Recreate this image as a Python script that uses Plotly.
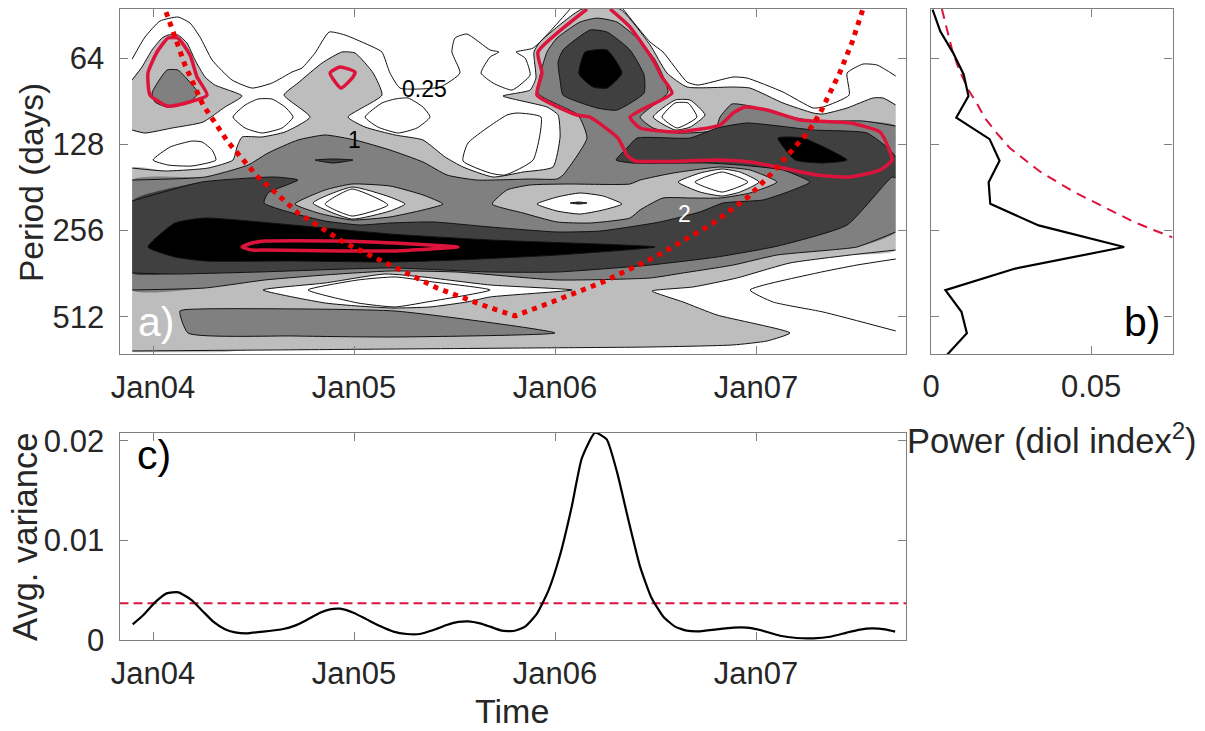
import plotly.graph_objects as go

W, H = 1205, 731

# ---------- axes labels ----------
YEAR_TICKS = [0, 1, 2, 3]                 # years since Jan 2004
YEAR_LABELS = ["Jan04", "Jan05", "Jan06", "Jan07"]
PERIOD_TICKS = [6, 7, 8, 9]               # log2(period)
PERIOD_LABELS = ["64", "128", "256", "512"]

# ---------- isolines of wavelet power: t = years since Jan 2004, p = log2(period in days) ----------
LIGHT_BLOB_T = [-.104,-.055,-.005,.045,.075,.124,.169,.209,.259,.308,.443,.358,.249,.095,-.040,-.104]
LIGHT_BLOB_P = [6.255,6.104,5.907,5.768,5.733,5.733,5.826,6.023,6.220,6.313,6.440,6.568,6.742,6.811,6.869,6.834]

LIGHT_MAIN_T = [-.104,.060,.274,.398,.418,.443,.542,.657,.781,.652,.721,.841,.940,1.005,1.095,1.139,.970,1.055,1.204,1.343,1.453,1.542,1.692,1.841,1.990,2.025,2.015,1.960,1.741,1.876,1.905,1.895,1.925,2.134,2.323,2.473,2.557,2.657,2.886,2.970,3.134,3.284,3.333,3.453,3.582,3.632,3.695,3.695,3.468,3.169,2.905,2.687,2.483,2.637,2.806,3.169,3.055,2.886,2.473,2.0,1.5,1.0,.5,-.104]
LIGHT_MAIN_P = [7.275,7.309,7.275,7.182,7.031,6.915,6.915,6.857,6.684,6.429,6.290,6.058,5.930,5.942,6.174,6.429,6.684,6.800,6.892,6.950,7.147,7.263,7.379,7.321,7.263,6.915,6.660,6.568,6.440,6.371,6.232,5.930,5.815,5.432,5.432,5.849,6.174,6.336,6.336,6.348,6.521,6.637,6.649,6.579,6.463,6.463,6.545,8.225,8.283,8.375,8.549,8.653,8.700,8.827,8.978,9.186,9.279,9.325,9.349,9.358,9.367,9.376,9.385,9.395]

LENS_OUT_T = [.547,.856,1.154,1.343,1.677,2.085,1.677,1.562,1.378,1.189,1.020,.856]
LENS_OUT_P = [8.688,8.607,8.503,8.537,8.630,8.688,8.769,8.827,8.885,8.897,8.874,8.839]
LENS_IN_T = [.771,1.020,1.204,1.393,1.677,1.363,1.204,1.020]
LENS_IN_P = [8.688,8.572,8.537,8.595,8.688,8.827,8.885,8.839]

MID_BLOB_T = [-.005,.070,.124,.174,.224,.194,.070,.010]
MID_BLOB_P = [6.406,6.139,6.139,6.255,6.406,6.487,6.568,6.510]

MID_MAIN_T = [-.104,.259,.473,.572,.721,.856,1.005,1.179,1.343,1.463,1.612,1.876,2.010,2.040,2.159,2.114,1.915,1.960,2.010,2.124,2.209,2.308,2.408,2.498,2.562,2.423,2.488,2.607,2.796,2.821,2.880,2.970,3.134,3.284,3.532,3.695,3.695,3.502,3.368,3.104,2.886,2.637,2.473,2.010,1.512,1.179,.856,.557,.259,-.104]
MID_MAIN_P = [7.414,7.379,7.240,7.101,6.950,6.892,6.950,7.066,7.205,7.356,7.414,7.402,7.402,7.356,6.927,6.660,6.406,5.930,5.768,5.583,5.537,5.583,5.768,6.023,6.394,6.684,6.811,6.869,6.834,6.684,6.533,6.556,6.660,6.730,6.730,6.788,8.016,8.190,8.225,8.283,8.399,8.491,8.549,8.572,8.480,8.468,8.514,8.572,8.665,8.688]

MID_LOW_T = [.134,.244,1.204,2.000,1.204,.692,.174]
MID_LOW_P = [8.932,8.908,8.932,9.186,9.233,9.221,9.186]

DARK_MAIN_T = [-.104,.244,.607,.721,.572,.552,.692,.856,1.030,1.179,1.393,1.677,2.010,2.224,2.522,2.721,2.836,3.035,3.184,3.268,3.134,2.920,2.756,2.388,2.304,2.363,2.408,2.672,2.806,2.955,3.284,3.552,3.667,3.695,3.695,3.677,3.453,3.109,2.806,2.473,2.010,1.677,1.179,.522,.109,-.104]
DARK_MAIN_P = [7.657,7.437,7.379,7.414,7.564,7.680,7.796,7.889,7.935,7.912,7.900,7.958,8.016,8.005,7.900,7.784,7.680,7.645,7.529,7.437,7.298,7.240,7.217,7.217,7.182,7.031,6.927,6.927,6.811,6.753,6.834,6.869,7.066,7.147,7.390,7.379,7.935,8.178,8.306,8.399,8.480,8.480,8.433,8.480,8.503,8.491]

DARK_PEAK_T = [2.015,2.040,2.174,2.259,2.373,2.443,2.443,2.308,2.209,2.040,2.025]
DARK_PEAK_P = [6.046,5.907,5.676,5.699,5.907,6.197,6.406,6.603,6.579,6.429,6.255]
DARK_SPOT_T = [.806,.896,.995,.896]
DARK_SPOT_P = [7.182,7.170,7.182,7.217]

BLACK_PEAK_T = [2.119,2.149,2.259,2.333,2.259,2.189]
BLACK_PEAK_P = [6.185,5.930,5.907,6.174,6.348,6.336]
BLACK_LENS_T = [-.025,.109,.259,.692,1.179,1.677,2.498,2.010,1.512,1.179,.692,.259,.109]
BLACK_LENS_P = [8.190,7.912,7.854,7.935,8.039,8.109,8.190,8.283,8.341,8.364,8.352,8.352,8.306]
BLACK_RIGHT_T = [3.109,3.234,3.453,3.333,3.194]
BLACK_RIGHT_P = [6.927,6.927,7.182,7.217,7.182]

ISLE_A_T = [.706,.856,.990,1.179,1.343,1.443,1.343,1.179,.990,.821]
ISLE_A_P = [7.692,7.529,7.460,7.483,7.587,7.692,7.761,7.842,7.877,7.796]
ISLE_B_T = [1.687,1.761,1.876,2.060,2.373,2.423,2.587,2.821,2.970,3.104,2.970,2.821,2.672,2.537,2.423,2.373,2.174,2.010,1.841]
ISLE_B_P = [7.692,7.529,7.471,7.460,7.460,7.414,7.333,7.263,7.298,7.437,7.564,7.622,7.622,7.622,7.761,7.854,7.912,7.900,7.796]

HOLE_A1_T = [.796,.990,1.179,1.254,1.179,.990]
HOLE_A1_P = [7.680,7.495,7.611,7.692,7.773,7.866]
HOLE_A2_T = [.856,.990,1.169,.990]
HOLE_A2_P = [7.692,7.518,7.703,7.831]
HOLE_B1_T = [1.910,2.010,2.124,2.239,2.333,2.239,2.124,2.010]
HOLE_B1_P = [7.692,7.611,7.564,7.599,7.692,7.761,7.808,7.773]
HOLE_B2_T = [2.075,2.119,2.159,2.119]
HOLE_B2_P = [7.680,7.669,7.680,7.692]
HOLE_C1_T = [2.612,2.721,2.831,2.920,3.015,2.920,2.831,2.721]
HOLE_C1_P = [7.437,7.333,7.286,7.321,7.437,7.553,7.599,7.553]
HOLE_C2_T = [2.696,2.831,2.960,2.831]
HOLE_C2_P = [7.437,7.321,7.437,7.553]
HOLE_D1_T = [2.488,2.597,2.672,2.746,2.672,2.597]
HOLE_D1_P = [6.684,6.487,6.487,6.660,6.800,6.834]
HOLE_D2_T = [2.532,2.597,2.662,2.706,2.607]
HOLE_D2_P = [6.684,6.521,6.521,6.684,6.811]

# level 0.25 isolines that lie inside the white area
Q_TOP_T = [-.104,-.040,.035,.124,.184,.234,.294,.393,.493,.592,.692,.741,.806,.876,.955,1.095,1.139,1.179,1.229,1.428,1.527,1.487,1.502,1.562,1.677,1.721,1.677,1.632,1.692,1.786,1.876,1.851,1.806,1.891,2.075]
Q_TOP_P = [6.012,5.757,5.571,5.525,5.594,5.757,6.023,6.255,6.348,6.290,6.162,6.116,5.942,5.699,5.733,5.873,5.930,6.174,6.348,6.336,6.174,5.930,5.768,5.722,5.907,5.930,5.988,6.174,6.290,6.371,6.197,6.000,5.930,5.884,5.432]
Q_RIGHT_T = [2.338,2.473,2.537,2.657,2.711,2.886,2.955,3.134,3.284,3.333,3.463,3.453,3.532,3.602,3.695]
Q_RIGHT_P = [5.432,5.815,5.930,6.278,6.313,6.220,6.232,6.394,6.579,6.568,6.429,6.174,6.070,6.081,6.209]
Q_LOW_T = [3.695,3.502,3.303,2.970,3.084,3.333,3.695]
Q_LOW_P = [8.329,8.399,8.491,8.688,8.827,8.943,9.163]
Q_ISLE1_T = [0,.085,.194,.244,.294,.313,.194,.075,0]
Q_ISLE1_P = [7.182,7.031,6.962,6.973,7.066,7.182,7.251,7.240,7.182]
Q_ISLE2_T = [.398,.458,.522,.592,.657,.697,.642,.542,.458,.398]
Q_ISLE2_P = [6.684,6.545,6.475,6.475,6.568,6.684,6.811,6.869,6.811,6.684]
Q_ISLE3_T = [1.055,1.139,1.204,1.269,1.343,1.378,1.313,1.219,1.119,1.055]
Q_ISLE3_P = [6.684,6.521,6.475,6.463,6.568,6.684,6.811,6.869,6.800,6.684]
Q_ISLE4_T = [1.542,1.567,1.761,1.811,1.930,1.891,1.751,1.677,1.542]
Q_ISLE4_P = [7.193,6.985,6.660,6.637,6.684,7.182,7.356,7.333,7.193]

# significance contours
SIG1_T = [.075,.124,.184,.219,.269,.124,.070,-.015,-.025,.020,.075]
SIG1_P = [5.768,5.768,5.965,6.220,6.429,6.545,6.556,6.429,6.174,5.930,5.768]
SIG2_T = [.881,.930,1.005,.995,.935,.881]
SIG2_P = [6.174,6.104,6.162,6.220,6.348,6.174]
SIG3_T = [.443,.493,.557,.940,1.204,1.378,1.517,1.378,1.204,.940,.557,.493,.443]
SIG3_P = [8.190,8.144,8.120,8.120,8.144,8.167,8.190,8.213,8.236,8.236,8.225,8.225,8.190]
SIG4_T = [2.274,2.373,2.488,2.532,2.582,2.373,2.423,2.607,2.821,2.886,2.945,3.055,3.219,3.468,3.617,3.657,3.677,3.617,3.468,3.303,3.134,2.970,2.806,2.398,2.358,2.313,2.174,2.109,1.910,1.935,1.915,2.159]
SIG4_P = [5.432,5.641,6.023,6.220,6.406,6.684,6.811,6.857,6.776,6.637,6.568,6.603,6.718,6.753,6.857,7.031,7.182,7.298,7.379,7.356,7.275,7.205,7.182,7.193,7.124,6.927,6.684,6.660,6.429,6.174,5.930,5.432]

# cone of influence
COI_T = [.065,.100,.159,.249,.373,.517,.721,.955,1.154,1.413,1.666,1.801,1.985,2.239,2.497,2.781,2.960,3.080,3.259,3.319,3.418,3.478,3.532]
COI_P = [5.467,5.699,6.081,6.545,6.973,7.367,7.796,8.144,8.375,8.665,8.885,8.989,8.827,8.595,8.306,7.923,7.611,7.333,6.857,6.637,6.162,5.815,5.432]

# panel b: global wavelet spectrum
GWS_P = [5.44,5.69,5.94,6.19,6.44,6.69,6.94,7.19,7.44,7.69,7.94,8.19,8.44,8.69,8.94,9.19,9.44]
GWS_POWER = [.0005,.0029,.0069,.0102,.0117,.0079,.0183,.0214,.0180,.0185,.0336,.0603,.0263,.0045,.0095,.0112,.0050]
GWS_SIG_P = [5.432,5.676,5.907,6.12,6.371,6.525,6.699,6.873,7.046,7.182,7.317,7.433,7.549,7.665,7.781,7.897,7.993,8.078]
GWS_SIG_POWER = [.0034,.0050,.0066,.0086,.0117,.0143,.0169,.0206,.0247,.0294,.0341,.0393,.0445,.0507,.0570,.0632,.0695,.0754]

# panel c: scale-averaged variance
AVG_T = [-.101,-.048,.010,.068,.126,.192,.250,.300,.358,.408,.466,.549,.648,.706,.765,.831,.881,.930,.997,1.063,1.129,1.196,1.262,1.328,1.395,1.461,1.519,1.569,1.627,1.677,1.735,1.793,1.851,1.909,1.967,2.025,2.083,2.133,2.199,2.257,2.310,2.365,2.423,2.481,2.539,2.597,2.655,2.721,2.804,2.887,2.954,3.020,3.119,3.202,3.285,3.368,3.451,3.517,3.575,3.642,3.692]
AVG_VAR = [.00157,.00251,.00378,.00468,.00478,.00401,.00284,.00184,.00107,.00077,.00067,.00084,.00110,.00144,.00201,.00274,.00308,.00314,.00274,.00207,.00140,.00084,.00060,.00060,.00100,.00150,.00181,.00187,.00167,.00134,.00094,.00090,.00134,.00261,.00495,.00853,.01337,.01822,.02080,.02013,.01672,.01204,.00736,.00418,.00234,.00134,.00094,.00087,.00107,.00124,.00124,.00100,.00043,.00020,.00017,.00033,.00074,.00104,.00117,.00107,.00084]
AVG_SIG = .00368

# ---------- styles ----------
WHITE, LIGHT, MID, DARK, BLACK = "#ffffff", "#bdbdbd", "#808080", "#404040", "#000000"
CRIMSON = "#DC143C"
COI_RED = "#EE0000"
AXIS = "#7f7f7f"
TEXT = "#262626"
FONT = "Liberation Sans"
XR = [-0.1667, 3.746]
YR = [9.43, 5.426]
EDGE = (-.104, 3.695)
DATA_BOTTOM = 9.41
SMOOTH = 0.5

fig = go.Figure()


def outline(ts, ps):
    """Closed isoline, leaving the left and right data edges unstroked."""
    xs, ys = [], []
    n = len(ts)
    for i in range(n + 1):
        a, b = ts[i % n], ps[i % n]
        if i and ts[i - 1] == a and a in EDGE:
            xs.append(None); ys.append(None)
        xs.append(a); ys.append(b)
    return xs, ys


def region(ts, ps, color):
    fig.add_trace(go.Scatter(x=ts + ts[:1], y=ps + ps[:1], mode="lines", fill="toself", fillcolor=color,
                             line=dict(width=0, shape="spline", smoothing=SMOOTH), hoverinfo="skip",
                             xaxis="x", yaxis="y"))
    xs, ys = outline(ts, ps)
    fig.add_trace(go.Scatter(x=xs, y=ys, mode="lines",
                             line=dict(color="#111111", width=1, shape="spline", smoothing=SMOOTH),
                             hoverinfo="skip", xaxis="x", yaxis="y"))


def isoline(ts, ps):
    fig.add_trace(go.Scatter(x=ts, y=ps, mode="lines",
                             line=dict(color="#111111", width=1, shape="spline", smoothing=SMOOTH),
                             hoverinfo="skip", xaxis="x", yaxis="y"))


def sig(ts, ps):
    fig.add_trace(go.Scatter(x=ts, y=ps, mode="lines",
                             line=dict(color=CRIMSON, width=3.5, shape="spline", smoothing=SMOOTH),
                             hoverinfo="skip", xaxis="x", yaxis="y"))


def blank(x0, x1, y0, y1):
    """White margin between the data grid and the frame."""
    fig.add_trace(go.Scatter(x=[x0, x1, x1, x0, x0], y=[y0, y0, y1, y1, y0], mode="lines", fill="toself",
                             fillcolor=WHITE, line=dict(width=0), hoverinfo="skip", xaxis="x", yaxis="y"))


for t, p, c in [
    (LIGHT_BLOB_T, LIGHT_BLOB_P, LIGHT), (LIGHT_MAIN_T, LIGHT_MAIN_P, LIGHT),
    (LENS_OUT_T, LENS_OUT_P, WHITE), (LENS_IN_T, LENS_IN_P, WHITE),
    (MID_BLOB_T, MID_BLOB_P, MID), (MID_MAIN_T, MID_MAIN_P, MID), (MID_LOW_T, MID_LOW_P, MID),
    (DARK_MAIN_T, DARK_MAIN_P, DARK), (DARK_PEAK_T, DARK_PEAK_P, DARK), (DARK_SPOT_T, DARK_SPOT_P, DARK),
    (ISLE_A_T, ISLE_A_P, LIGHT), (ISLE_B_T, ISLE_B_P, LIGHT),
    (HOLE_A1_T, HOLE_A1_P, WHITE), (HOLE_A2_T, HOLE_A2_P, WHITE),
    (HOLE_B1_T, HOLE_B1_P, WHITE), (HOLE_B2_T, HOLE_B2_P, DARK),
    (HOLE_C1_T, HOLE_C1_P, WHITE), (HOLE_C2_T, HOLE_C2_P, WHITE),
    (HOLE_D1_T, HOLE_D1_P, WHITE), (HOLE_D2_T, HOLE_D2_P, WHITE),
    (BLACK_PEAK_T, BLACK_PEAK_P, BLACK), (BLACK_LENS_T, BLACK_LENS_P, BLACK), (BLACK_RIGHT_T, BLACK_RIGHT_P, BLACK),
]:
    region(t, p, c)

blank(XR[0], EDGE[0], YR[1], YR[0])
blank(EDGE[1], XR[1], YR[1], YR[0])
blank(XR[0], XR[1], DATA_BOTTOM, YR[0])

for t, p in [(Q_TOP_T, Q_TOP_P), (Q_RIGHT_T, Q_RIGHT_P), (Q_LOW_T, Q_LOW_P), (Q_ISLE1_T, Q_ISLE1_P),
             (Q_ISLE2_T, Q_ISLE2_P), (Q_ISLE3_T, Q_ISLE3_P), (Q_ISLE4_T, Q_ISLE4_P)]:
    isoline(t, p)

for t, p in [(SIG1_T, SIG1_P), (SIG2_T, SIG2_P), (SIG3_T, SIG3_P), (SIG4_T, SIG4_P)]:
    sig(t, p)

fig.add_trace(go.Scatter(x=COI_T, y=COI_P, mode="lines", hoverinfo="skip",
                         line=dict(color=COI_RED, width=5, dash="5px,5.5px"), xaxis="x", yaxis="y"))

# panel b
fig.add_trace(go.Scatter(x=GWS_SIG_POWER, y=GWS_SIG_P, mode="lines",
                         line=dict(color=CRIMSON, width=2, dash="10px,7px"), xaxis="x2", yaxis="y2"))
fig.add_trace(go.Scatter(x=GWS_POWER, y=GWS_P, mode="lines",
                         line=dict(color=BLACK, width=2.2), xaxis="x2", yaxis="y2"))

# panel c
fig.add_trace(go.Scatter(x=XR, y=[AVG_SIG, AVG_SIG], mode="lines",
                         line=dict(color=CRIMSON, width=2, dash="9px,5px"), xaxis="x3", yaxis="y3"))
fig.add_trace(go.Scatter(x=AVG_T, y=AVG_VAR, mode="lines",
                         line=dict(color=BLACK, width=2.2, shape="spline", smoothing=0.5), xaxis="x3", yaxis="y3"))


def ax(**kw):
    base = dict(showgrid=False, zeroline=False, showline=True, linecolor=AXIS, linewidth=1.3,
                mirror="ticks", ticks="inside", ticklen=8, tickwidth=1, tickcolor=AXIS, automargin=False,
                tickfont=dict(family=FONT, size=31, color=TEXT), layer="above traces")
    base.update(kw)
    return base


def dom(a, b, size, flip=False):
    return [1 - b / size, 1 - a / size] if flip else [a / size, b / size]


xa_common = dict(range=XR, tickmode="array", tickvals=YEAR_TICKS, ticktext=YEAR_LABELS, ticklabelstandoff=6)
ya_common = dict(range=YR, tickmode="array", tickvals=PERIOD_TICKS)

fig.update_layout(
    width=W, height=H, margin=dict(l=0, r=0, t=0, b=0, pad=0, autoexpand=False), showlegend=False,
    paper_bgcolor="white", plot_bgcolor="white",
    xaxis=ax(domain=dom(119.5, 906, W), anchor="y", **xa_common),
    yaxis=ax(domain=dom(8.5, 354, H, True), anchor="x", ticktext=PERIOD_LABELS, ticklabelstandoff=8, **ya_common),
    xaxis2=ax(domain=dom(931, 1172.5, W), anchor="y2", range=[0, 0.0754], tickmode="array",
              tickvals=[0, 0.05], ticktext=["0", "0.05"], ticklabelstandoff=5),
    yaxis2=ax(domain=dom(8.5, 354, H, True), anchor="x2", showticklabels=False, **ya_common),
    xaxis3=ax(domain=dom(119.5, 906, W), anchor="y3", **xa_common),
    yaxis3=ax(domain=dom(432.7, 640, H, True), anchor="x3", range=[0, 0.0208], tickmode="array",
              tickvals=[0, 0.01, 0.02], ticktext=["0", "0.01", "0.02"], ticklabelstandoff=8),
)


def note(text, x, y, size, color=TEXT, angle=0):
    fig.add_annotation(text=text, xref="paper", yref="paper", x=x / W, y=1 - y / H, showarrow=False,
                       xanchor="center", yanchor="middle", textangle=angle, borderpad=0,
                       font=dict(family=FONT, size=size, color=color))


note("Period (days)", 31, 183, 33.5, angle=-90)
note("Avg. variance", 25, 537, 34.5, angle=-90)
note("Time", 512, 711, 34)
note("Power (diol index<sup>2</sup>)", 1052, 438, 34.5)
note("a)", 156, 322, 41, "white")
note("b)", 1142, 322, 41, "black")
note("c)", 154, 455, 41, "black")
note("0.25", 424, 89, 23, "black")
note("1", 354, 140, 23, "black")
note("2", 684, 214, 23, "white")

fig.write_html("out.html", config={"displayModeBar": False}, post_script="document.body.style.margin='0';")
